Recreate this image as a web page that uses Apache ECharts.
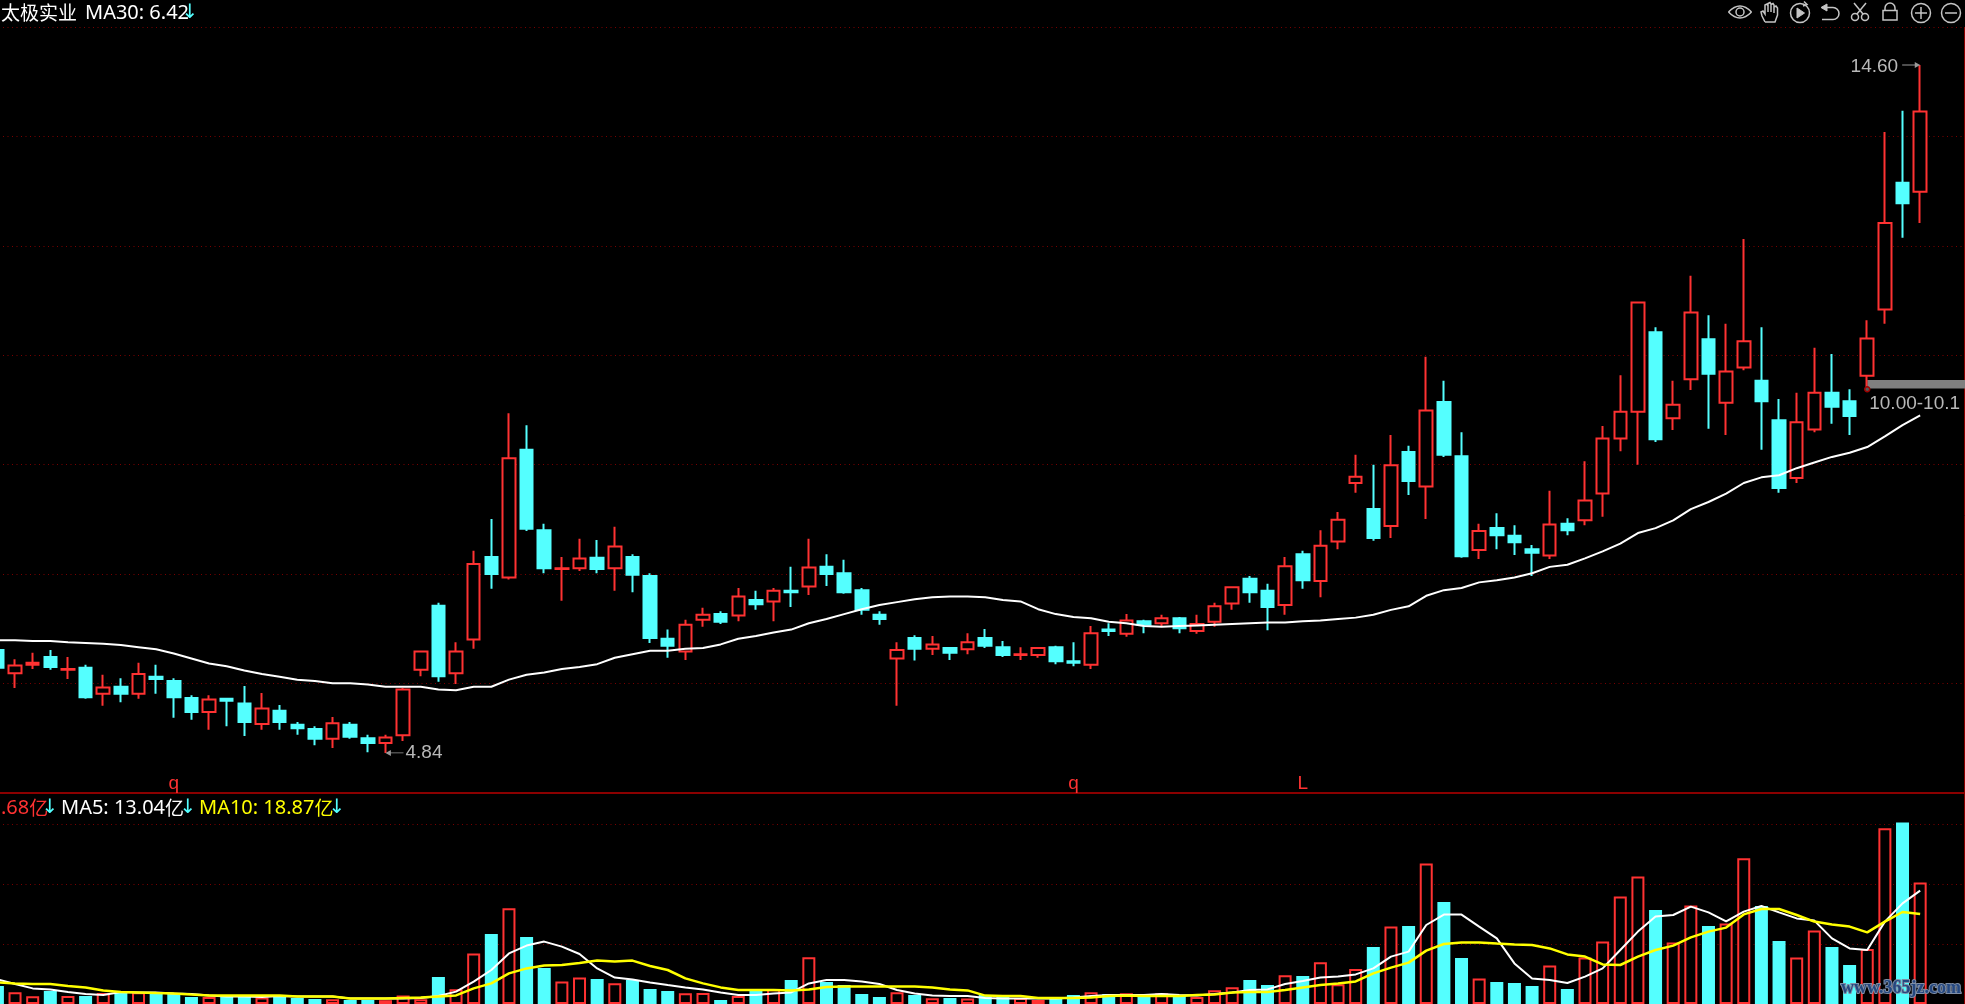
<!DOCTYPE html>
<html>
<head>
<meta charset="utf-8">
<style>html,body{margin:0;padding:0;background:#000;overflow:hidden}#c{width:1965px;height:1004px}</style>
<script src="https://cdn.jsdelivr.net/npm/echarts@6/dist/echarts.min.js"></script>
</head>
<body>
<div id="c"></div>
<script>
// First visible candle is partly cut off by the left edge; two empty bands stay on the right.
const opens = [6.30,5.97,6.09,6.20,6.02,6.05,5.68,5.78,5.68,5.92,5.86,5.62,5.42,5.61,5.54,5.25,5.44,5.24,5.18,5.04,5.24,5.05,4.98,5.09,6.02,6.93,5.97,6.45,7.62,7.33,9.14,8.00,7.45,7.46,7.61,7.46,7.62,7.35,6.46,6.28,6.73,6.81,6.79,7.01,6.99,7.14,7.20,7.48,7.39,7.15,6.80,6.18,6.47,6.32,6.33,6.31,6.47,6.34,6.23,6.23,6.34,6.14,6.09,6.59,6.53,6.71,6.68,6.75,6.57,6.70,6.96,7.31,7.14,6.94,7.66,7.28,7.84,8.67,8.30,8.06,9.11,8.62,9.82,9.05,7.72,8.03,7.92,7.73,7.64,8.09,8.14,8.52,9.30,9.68,10.81,9.59,10.14,10.71,9.81,10.31,10.12,9.56,8.74,9.43,9.95,9.83,10.19,11.13,12.93,12.80];
const closes = [6.05,6.08,6.12,6.06,6.03,5.63,5.77,5.68,5.96,5.89,5.63,5.42,5.60,5.58,5.28,5.47,5.28,5.19,5.04,5.26,5.07,4.98,5.06,5.74,6.28,5.93,6.28,7.52,7.38,9.02,8.02,7.46,7.46,7.60,7.45,7.77,7.37,6.47,6.36,6.66,6.80,6.70,7.06,6.95,7.14,7.12,7.47,7.38,7.12,6.87,6.74,6.30,6.32,6.38,6.26,6.41,6.36,6.23,6.24,6.33,6.14,6.12,6.54,6.57,6.72,6.66,6.75,6.61,6.67,6.92,7.19,7.12,6.91,7.49,7.29,7.78,8.15,8.76,7.89,8.92,8.70,9.70,9.07,7.63,7.99,7.93,7.83,7.68,8.08,8.00,8.42,9.30,9.68,11.23,9.29,9.78,11.09,10.22,10.25,10.68,9.83,8.60,9.53,9.95,9.75,9.62,10.72,12.36,12.64,13.94];
const lows = [6.03,5.76,6.03,6.02,5.89,5.61,5.51,5.56,5.61,5.68,5.34,5.31,5.17,5.22,5.08,5.17,5.17,5.10,4.95,4.91,5.04,4.85,4.84,5.01,5.93,5.85,5.82,6.32,7.17,7.30,7.99,7.39,7.00,7.42,7.39,7.14,7.12,6.40,6.19,6.16,6.63,6.67,6.71,6.87,6.71,6.91,7.08,7.21,7.10,6.80,6.66,5.51,6.15,6.23,6.16,6.24,6.33,6.20,6.16,6.19,6.10,6.07,6.03,6.50,6.49,6.54,6.64,6.54,6.53,6.63,6.87,6.97,6.58,6.80,7.17,7.05,7.73,8.53,7.85,7.89,8.50,8.16,9.04,7.61,7.59,7.73,7.65,7.35,7.59,7.93,8.07,8.19,9.12,8.93,9.25,9.42,9.99,9.44,9.35,10.27,9.14,8.53,8.67,9.39,9.51,9.35,10.00,10.93,12.15,12.36];
const highs = [6.33,6.17,6.26,6.30,6.20,6.09,5.95,5.90,6.12,6.09,5.90,5.66,5.66,5.62,5.79,5.69,5.52,5.28,5.22,5.35,5.28,5.10,5.10,5.76,6.29,6.97,6.41,7.71,8.16,9.66,9.49,8.09,7.62,7.88,7.86,8.05,7.66,7.39,6.59,6.73,6.90,6.85,7.18,7.14,7.18,7.48,7.88,7.66,7.58,7.18,6.85,6.41,6.51,6.50,6.34,6.54,6.60,6.43,6.34,6.34,6.36,6.41,6.64,6.68,6.81,6.73,6.80,6.77,6.80,6.97,7.20,7.35,7.24,7.62,7.71,8.00,8.26,9.07,8.93,9.35,9.20,10.46,10.12,9.39,8.09,8.24,8.07,7.79,8.56,8.17,8.98,9.48,10.20,11.24,10.88,10.12,11.61,11.05,10.93,12.13,10.88,9.86,9.95,10.59,10.50,10.00,10.98,13.65,13.95,14.60];
const ma30 = [6.44,6.44,6.43,6.43,6.41,6.40,6.39,6.37,6.34,6.31,6.25,6.18,6.11,6.07,6.01,5.96,5.92,5.88,5.86,5.83,5.83,5.81,5.78,5.78,5.78,5.74,5.73,5.78,5.78,5.88,5.95,5.98,6.03,6.06,6.10,6.19,6.24,6.29,6.29,6.32,6.33,6.38,6.46,6.50,6.55,6.59,6.68,6.74,6.81,6.88,6.94,6.98,7.02,7.05,7.06,7.06,7.05,7.01,6.99,6.88,6.81,6.77,6.75,6.70,6.68,6.64,6.63,6.64,6.65,6.66,6.67,6.68,6.69,6.69,6.71,6.72,6.74,6.76,6.80,6.87,6.92,7.07,7.15,7.18,7.26,7.29,7.33,7.39,7.48,7.51,7.60,7.70,7.81,7.96,8.03,8.14,8.30,8.40,8.52,8.67,8.75,8.78,8.88,8.96,9.04,9.10,9.18,9.33,9.49,9.63];
const volumes = [9.0,5.9,3.9,6.5,4.0,4.0,5.5,6.0,5.9,5.4,5.4,3.5,3.5,3.5,3.5,3.2,3.7,3.0,2.5,2.4,2.0,2.0,1.9,4.2,2.4,13.5,7.4,25.2,35.0,47.9,33.5,18.0,11.2,13.2,12.5,10.4,12.0,7.5,6.5,5.4,5.5,2.0,4.0,7.0,7.4,12.0,23.4,11.0,9.5,5.0,3.5,5.9,4.5,2.9,3.0,2.7,4.5,4.0,3.0,2.0,2.9,4.5,5.9,5.0,5.4,4.5,5.4,4.5,3.5,6.9,8.4,12.0,9.5,14.4,14.0,20.9,9.9,17.5,28.5,38.7,39.0,70.2,51.0,23.0,12.7,11.0,10.5,9.0,19.2,7.5,23.2,31.2,53.7,63.7,47.0,30.7,49.2,39.0,40.2,72.9,49.0,31.5,23.2,36.7,28.5,19.5,27.5,87.9,90.7,60.7];
const volMa5 = [12.3,10.0,7.8,7.3,6.0,5.0,4.5,6.0,5.8,5.8,5.3,5.0,4.3,3.8,3.7,3.5,4.0,3.7,3.7,3.7,2.8,2.8,2.8,2.8,3.0,4.0,6.2,11.2,17.0,25.3,29.2,31.2,28.7,25.0,17.8,13.2,12.3,10.8,9.5,8.3,7.3,5.7,4.5,4.5,5.3,5.8,10.3,12.0,12.0,11.3,10.0,7.0,5.3,4.2,4.0,4.0,3.0,2.8,2.8,2.8,2.8,3.2,4.0,4.5,4.5,4.5,5.0,4.5,4.3,5.0,5.8,7.0,7.3,10.0,11.5,13.2,13.7,14.8,17.8,23.7,26.2,39.5,44.7,44.7,38.7,32.8,20.3,12.7,12.0,10.5,13.7,17.8,27.0,36.2,43.7,44.5,48.7,45.8,41.3,46.2,49.0,45.8,42.8,41.7,32.8,27.8,27.0,41.2,50.3,56.7];
const volMa10 = [10.8,10.3,10.0,10.0,9.0,8.3,6.7,6.0,5.8,5.5,5.3,4.7,4.3,4.3,4.3,4.3,4.2,3.8,3.8,3.7,2.8,2.8,2.8,3.0,3.2,3.8,4.3,7.8,10.3,15.3,17.8,19.2,19.5,20.5,21.7,21.2,21.7,19.0,17.0,12.8,10.3,8.3,7.0,7.0,7.0,6.8,7.3,8.5,8.7,8.7,8.7,8.7,8.7,8.2,7.3,6.8,4.2,4.0,4.0,3.0,3.0,3.0,3.3,4.0,4.2,4.0,4.0,4.0,4.5,4.7,5.7,6.0,6.0,7.0,8.3,9.5,10.3,11.3,15.3,18.2,20.7,26.7,30.0,30.8,30.8,30.2,29.8,29.5,27.8,24.8,23.7,19.8,19.5,23.7,27.0,29.2,33.3,36.2,38.2,44.8,47.5,47.5,44.5,41.2,39.8,38.7,35.8,41.2,46.0,45.0];
const bandCount = 113;
const categories = Array.from({length: bandCount}, (_, i) => String(i));
const stockName = '太极实业';
const priceLabel = 'MA30: 6.42';
const volLabels = ['.68', 'MA5: 13.04', 'MA10: 18.87'];
const volUnit = '亿';
const lowMark = 4.84, highMark = 14.60;
const rangeText = '10.00-10.1';
const signals = [[10, 'q'], [61, 'q'], [74, 'L']];
const watermark = 'www.365jz.com';

const RED = '#ff3232', CYAN = '#54ffff', DIVIDER = '#8b0000', DOT = '#7a0000', INK = '#c4c4c4';
const CJK = '"Noto Sans CJK SC","Noto Sans",sans-serif';
const LATIN = '"Liberation Sans",Arial,sans-serif';
const candles = opens.map((o, i) => [o, closes[i], lows[i], highs[i]]);
const volBars = volumes.map((v, i) => {
  const up = closes[i] >= opens[i];
  return {value: v, itemStyle: up ? {color: '#000', borderColor: RED, borderWidth: 2} : {color: CYAN, borderColor: CYAN, borderWidth: 2}};
});

const left = -11.42, width = bandCount * 17.64;
const grayLabel = {color: '#b8b8b8', fontFamily: LATIN, fontSize: 19};
const markers = [
  {coord: [109, highMark], symbol: 'path://M0 2.6 L14 2.6 L14 0 L20 3 L14 6 L14 3.4 L0 3.4 Z', symbolSize: [18, 6], symbolOffset: [-9, 0],
   itemStyle: {color: '#9a9a9a'}, label: {show: true, formatter: highMark.toFixed(2), position: 'left', distance: 2, offset: [-2, 1.5], ...grayLabel}},
  {coord: [22, lowMark], symbol: 'path://M20 2.6 L6 2.6 L6 0 L0 3 L6 6 L6 3.4 L20 3.4 Z', symbolSize: [18, 6], symbolOffset: [9, 0],
   itemStyle: {color: '#9a9a9a'}, label: {show: true, formatter: lowMark.toFixed(2), position: 'right', distance: 2, ...grayLabel}},
  {coord: [106, 10.00], symbol: 'circle', symbolSize: 5, itemStyle: {color: '#555', borderColor: '#a00000', borderWidth: 1.5}, label: {show: false}},
  ...signals.map(([pos, txt]) => ({coord: [pos, 4.40], symbol: 'circle', symbolSize: 0,
    label: {show: true, formatter: txt, position: 'inside', color: RED, fontFamily: LATIN, fontSize: 19}}))
];

const stroke = {fill: 'transparent', stroke: INK, lineWidth: 1.5};
const icon = (type, shape, style) => ({type, silent: true, shape, style: style || stroke});
const fill = {fill: INK, stroke: INK, lineWidth: 1};
const icons = [
  icon('bezierCurve', {x1: 1728.5, y1: 12, x2: 1751.5, y2: 12, cpx1: 1740, cpy1: 0}),
  icon('bezierCurve', {x1: 1728.5, y1: 12, x2: 1751.5, y2: 12, cpx1: 1740, cpy1: 24}),
  icon('circle', {cx: 1740, cy: 12, r: 4}),
  icon('polyline', {points: [[1765,22],[1762,16],[1761,12],[1763,11],[1765,14],[1765,5],[1767,4],[1768,6],[1768,12],[1768,3.5],[1770,2.5],[1771,4],[1771,12],[1771,4.5],[1773,3.5],[1774,5],[1774,13],[1774,7],[1776,6],[1777.5,8],[1777.5,15],[1775,22],[1765,22]]}),
  icon('circle', {cx: 1800, cy: 13, r: 9.5}),
  icon('polygon', {points: [[1797,8],[1797,18],[1804.5,13]]}, fill),
  icon('polyline', {points: [[1804,1.5],[1807,4.5],[1803,6]]}),
  icon('polygon', {points: [[1821,7.5],[1827,4],[1827,11]]}, fill),
  icon('line', {x1: 1827, y1: 7.5, x2: 1833, y2: 7.5}),
  icon('arc', {cx: 1833, cy: 13.5, r: 6, startAngle: -Math.PI / 2, endAngle: Math.PI / 2, clockwise: true}),
  icon('line', {x1: 1833, y1: 19.5, x2: 1822, y2: 19.5}),
  icon('circle', {cx: 1855, cy: 17, r: 3.5}),
  icon('circle', {cx: 1865, cy: 17, r: 3.5}),
  icon('line', {x1: 1857, y1: 14, x2: 1866, y2: 3}),
  icon('line', {x1: 1863, y1: 14, x2: 1854, y2: 3}),
  icon('rect', {x: 1883, y: 10.5, width: 14, height: 9.5}),
  icon('arc', {cx: 1890, cy: 8, r: 5, startAngle: Math.PI, endAngle: Math.PI * 2, clockwise: true}),
  icon('line', {x1: 1885, y1: 8, x2: 1885, y2: 10.5}),
  icon('line', {x1: 1895, y1: 8, x2: 1895, y2: 10.5}),
  icon('circle', {cx: 1921, cy: 13, r: 9.5}),
  icon('line', {x1: 1915, y1: 13, x2: 1927, y2: 13}),
  icon('line', {x1: 1921, y1: 7, x2: 1921, y2: 19}),
  icon('circle', {cx: 1951, cy: 13, r: 9.5}),
  icon('line', {x1: 1945, y1: 13, x2: 1957, y2: 13}),
  {type: 'line', silent: true, shape: {x1: 1964.5, y1: 27, x2: 1964.5, y2: 1004}, style: {stroke: DIVIDER, lineWidth: 1}},
  {type: 'text', silent: true, x: 1841, y: 979, style: {text: watermark, fill: '#24477f', font: 'bold 18px "Liberation Serif",serif', stroke: '#7f8ea6', lineWidth: 2}, z: 20}
];

const dotted = {show: true, lineStyle: {color: DOT, width: 1, type: [1, 3.5]}};
const hiddenValueX = (gridIndex) => ({type: 'value', gridIndex, show: false, min: 0, max: 1, splitLine: {show: false}});
const divisions = (gridIndex, max) => ({type: 'value', gridIndex, min: 0, max, interval: 1, axisLabel: {show: false}, axisTick: {show: false}, axisLine: {show: false}, splitLine: dotted});
const cjkText = (color) => ({color, fontFamily: CJK, fontSize: 19, fontWeight: 'normal', lineHeight: 24});
const latinText = (color) => ({color, fontFamily: '"Noto Sans",sans-serif', fontSize: 20, fontWeight: 'normal', lineHeight: 24});
const volTitle = (x, label, color) => ({left: x, top: 796, padding: 0,
  text: '{l|' + label + '}{c|' + volUnit + '}',
  textStyle: {rich: {l: latinText(color), c: cjkText(color)}}});
const arrowTitle = (x, y) => ({left: x, top: y, padding: 0, text: '↓',
  textStyle: {color: CYAN, fontFamily: '"DejaVu Sans"', fontSize: 20, fontWeight: 'normal', lineHeight: 24}});

const chart = echarts.init(document.getElementById('c'), null, {renderer: 'canvas'});
chart.setOption({
  animation: false,
  backgroundColor: '#000',
  title: [
    {left: 1, top: 1, padding: 0, text: '{c|' + stockName + '}{l|' + priceLabel + '}',
     textStyle: {rich: {c: cjkText('#fff'), l: {...latinText('#fff'), padding: [0, 0, 0, 8]}}}},
    arrowTitle(181.6, 1),
    volTitle(1, volLabels[0], RED),
    arrowTitle(41.6, 796),
    volTitle(61, volLabels[1], '#fff'),
    arrowTitle(179.6, 796),
    volTitle(199, volLabels[2], '#ff0'),
    arrowTitle(328.6, 796)
  ],
  grid: [
    {left, width, top: 0, bottom: 211, outerBoundsMode: 'none'},
    {left, width, top: 794, bottom: 0, outerBoundsMode: 'none'},
    {left: 3, width: 1961, top: 27, height: 766, outerBoundsMode: 'none'},
    {left: 3, width: 1961, top: 824, height: 180, outerBoundsMode: 'none'}
  ],
  xAxis: [
    {type: 'category', gridIndex: 0, data: categories, axisLine: {show: true, lineStyle: {color: DIVIDER, width: 2}}, axisTick: {show: false}, axisLabel: {show: false}, splitLine: {show: false}},
    {type: 'category', gridIndex: 1, data: categories, axisLine: {show: false}, axisTick: {show: false}, axisLabel: {show: false}, splitLine: {show: false}},
    hiddenValueX(2), hiddenValueX(3)
  ],
  yAxis: [
    {type: 'value', gridIndex: 0, min: 4.272, max: 15.522, show: false, splitLine: {show: false}},
    {type: 'value', gridIndex: 1, min: 0, max: 105, show: false, splitLine: {show: false}},
    divisions(2, 7), divisions(3, 3)
  ],
  graphic: {elements: icons},
  series: [
    {type: 'candlestick', xAxisIndex: 0, yAxisIndex: 0, data: candles, barWidth: 13, silent: true, z: 3,
     itemStyle: {color: '#000', color0: CYAN, borderColor: RED, borderColor0: CYAN, borderColorDoji: RED, borderWidth: 2},
     markPoint: {silent: true, animation: false, data: markers},
     markArea: {silent: true, itemStyle: {color: '#808080'},
       label: {show: true, formatter: rangeText, position: [2, 14], ...grayLabel, align: 'left', verticalAlign: 'top'},
       data: [[{coord: [106, 10.13]}, {coord: [112, 10.01]}]]}},
    {type: 'line', xAxisIndex: 0, yAxisIndex: 0, data: ma30, showSymbol: false, silent: true, z: 5, lineStyle: {color: '#fff', width: 2}},
    {type: 'bar', xAxisIndex: 1, yAxisIndex: 1, data: volBars, barWidth: 13, silent: true, z: 3},
    {type: 'line', xAxisIndex: 1, yAxisIndex: 1, data: volMa5, showSymbol: false, silent: true, z: 5, lineStyle: {color: '#fff', width: 2}},
    {type: 'line', xAxisIndex: 1, yAxisIndex: 1, data: volMa10, showSymbol: false, silent: true, z: 6, lineStyle: {color: '#ff0', width: 2.5}}
  ]
});
</script>
</body>
</html>
